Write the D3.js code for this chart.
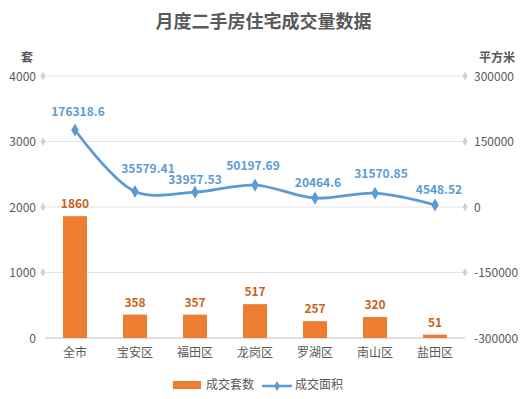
<!DOCTYPE html>
<html>
<head>
<meta charset="utf-8">
<script src="https://cdn.jsdelivr.net/npm/d3@7"></script>
<style>
  body { margin: 0; background: #fff; }
  text { font-family: "Microsoft YaHei", "Noto Sans CJK SC", sans-serif; }
</style>
</head>
<body>
<div id="chart"></div>
<script>
// Chart data
const categories = ["全市", "宝安区", "福田区", "龙岗区", "罗湖区", "南山区", "盐田区"];
const units = [1860, 358, 357, 517, 257, 320, 51];
const areas = [176318.6, 35579.41, 33957.53, 50197.69, 20464.6, 31570.85, 4548.52];
const leftTicks = [0, 1000, 2000, 3000, 4000];
const rightTicks = [-300000, -150000, 0, 150000, 300000];

// small nudges for the line labels (dx, dy) so they sit like the original
const areaLabelNudge = [[3, -14], [13, -18], [0, -8], [-2, -15], [3, -11], [6, -15], [4, -11]];

const width = 527;
const height = 399;
const margin = { top: 76, right: 62, bottom: 61, left: 45 };

const svg = d3.select("#chart")
    .append("svg")
    .attr("width", width)
    .attr("height", height);

const x = d3.scaleBand()
    .domain(categories)
    .range([margin.left, width - margin.right])
    .paddingInner(0.6)
    .paddingOuter(0.3);

const yLeft = d3.scaleLinear()
    .domain([0, 4000])
    .range([height - margin.bottom, margin.top]);

const yRight = d3.scaleLinear()
    .domain([-300000, 300000])
    .range([height - margin.bottom, margin.top]);

const grey = "#595959";

// title
svg.append("text")
    .attr("x", width / 2)
    .attr("y", 28)
    .attr("text-anchor", "middle")
    .attr("font-size", 18)
    .attr("font-weight", "bold")
    .attr("fill", grey)
    .text("月度二手房住宅成交量数据");

// axis titles
svg.append("text")
    .attr("x", 27).attr("y", 62)
    .attr("text-anchor", "middle")
    .attr("font-size", 12).attr("font-weight", "bold")
    .attr("fill", grey)
    .text("套");

svg.append("text")
    .attr("x", 497).attr("y", 62)
    .attr("text-anchor", "middle")
    .attr("font-size", 12).attr("font-weight", "bold")
    .attr("fill", grey)
    .text("平方米");

// gridlines
svg.selectAll(".grid")
    .data(leftTicks)
    .enter()
    .append("line")
    .attr("class", "grid")
    .attr("x1", margin.left)
    .attr("x2", width - margin.right)
    .attr("y1", d => yLeft(d))
    .attr("y2", d => yLeft(d))
    .attr("stroke", d => d === 0 ? "#bfbfbf" : "#e3e3e3")
    .attr("stroke-width", 1);

// diamond tick marks at both ends
const tickDiamond = d3.symbol().type(d3.symbolDiamond).size(22);
svg.selectAll(".ltick")
    .data(leftTicks.filter(d => d !== 0))
    .enter()
    .append("path")
    .attr("d", tickDiamond)
    .attr("transform", d => `translate(${margin.left - 2},${yLeft(d)})`)
    .attr("fill", "#d0d0d0");

svg.selectAll(".rtick")
    .data(rightTicks.filter(d => d !== -300000))
    .enter()
    .append("path")
    .attr("d", tickDiamond)
    .attr("transform", d => `translate(${width - margin.right},${yRight(d)})`)
    .attr("fill", "#d0d0d0");

// left tick labels
svg.selectAll(".llab")
    .data(leftTicks)
    .enter()
    .append("text")
    .attr("x", 36)
    .attr("y", d => yLeft(d))
    .attr("dy", "0.38em")
    .attr("text-anchor", "end")
    .attr("font-size", 12)
    .attr("fill", grey)
    .text(d => d);

// right tick labels
svg.selectAll(".rlab")
    .data(rightTicks)
    .enter()
    .append("text")
    .attr("x", width - margin.right + 9)
    .attr("y", d => yRight(d))
    .attr("dy", "0.38em")
    .attr("text-anchor", "start")
    .attr("font-size", 12)
    .attr("fill", grey)
    .text(d => d);

// category labels
svg.selectAll(".clab")
    .data(categories)
    .enter()
    .append("text")
    .attr("x", d => x(d) + x.bandwidth() / 2)
    .attr("y", height - margin.bottom + 19)
    .attr("text-anchor", "middle")
    .attr("font-size", 12)
    .attr("fill", grey)
    .text(d => d);

// bars
svg.selectAll(".bar")
    .data(units)
    .enter()
    .append("rect")
    .attr("class", "bar")
    .attr("x", (d, i) => x(categories[i]))
    .attr("width", x.bandwidth())
    .attr("y", d => yLeft(d))
    .attr("height", d => yLeft(0) - yLeft(d))
    .attr("fill", "#ED7D31");

svg.selectAll(".barlab")
    .data(units)
    .enter()
    .append("text")
    .attr("x", (d, i) => x(categories[i]) + x.bandwidth() / 2)
    .attr("y", d => yLeft(d) - 8)
    .attr("text-anchor", "middle")
    .attr("font-size", 12)
    .attr("font-weight", "bold")
    .attr("fill", "#C8621A")
    .text(d => d);

// line
const cx = i => x(categories[i]) + x.bandwidth() / 2;
const line = d3.line()
    .x((d, i) => cx(i))
    .y(d => yRight(d))
    .curve(d3.curveCatmullRom.alpha(0.5));

svg.append("path")
    .datum(areas)
    .attr("d", line)
    .attr("fill", "none")
    .attr("stroke", "#5B9BD5")
    .attr("stroke-width", 2.75)
    .attr("stroke-linecap", "round");

svg.selectAll(".pt")
    .data(areas)
    .enter()
    .append("path")
    .attr("d", d3.symbol().type(d3.symbolDiamond).size(50))
    .attr("transform", (d, i) => `translate(${cx(i)},${yRight(d)})`)
    .attr("fill", "#5B9BD5");

svg.selectAll(".arealab")
    .data(areas)
    .enter()
    .append("text")
    .attr("x", (d, i) => cx(i) + areaLabelNudge[i][0])
    .attr("y", (d, i) => yRight(d) + areaLabelNudge[i][1])
    .attr("text-anchor", "middle")
    .attr("font-size", 12)
    .attr("font-weight", "bold")
    .attr("fill", "#5B9BD5")
    .text(d => d);

// legend
const legend = svg.append("g").attr("transform", "translate(0,385)");
legend.append("rect")
    .attr("x", 173).attr("y", -4)
    .attr("width", 28).attr("height", 8)
    .attr("fill", "#ED7D31");
legend.append("text")
    .attr("x", 206).attr("y", 0).attr("dy", "0.35em")
    .attr("font-size", 12).attr("fill", grey)
    .text("成交套数");
legend.append("line")
    .attr("x1", 262).attr("x2", 292)
    .attr("y1", 1).attr("y2", 1)
    .attr("stroke", "#5B9BD5").attr("stroke-width", 2.5);
legend.append("path")
    .attr("d", d3.symbol().type(d3.symbolDiamond).size(30))
    .attr("transform", "translate(277,1)")
    .attr("fill", "#5B9BD5");
legend.append("text")
    .attr("x", 295).attr("y", 0).attr("dy", "0.35em")
    .attr("font-size", 12).attr("fill", grey)
    .text("成交面积");
</script>
</body>
</html>
